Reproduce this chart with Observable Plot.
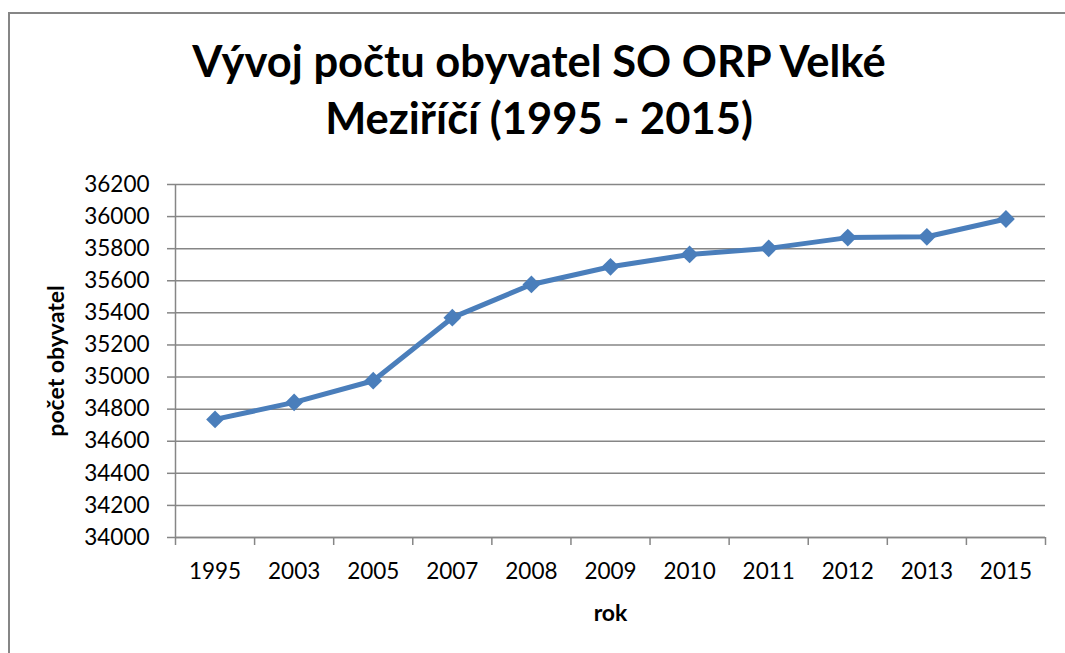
<!DOCTYPE html>
<html>
<head>
<meta charset="utf-8">
<script src="https://cdn.jsdelivr.net/npm/d3@7"></script>
<script src="https://cdn.jsdelivr.net/npm/@observablehq/plot@0.6"></script>
<style>
  html, body { margin: 0; padding: 0; overflow: hidden; background: #fff; width: 1065px; height: 653px; }
  body { font-family: Lato, "Open Sans", sans-serif; position: relative; }
  #frame { position: absolute; left: 8px; top: 12px; width: 1100px; height: 700px; border-left: 2px solid #868686; border-top: 2px solid #868686; pointer-events: none; }
  #title { position: relative; box-sizing: border-box; height: 165px; padding-top: 32px; padding-left: 13px; text-align: center;
           font-family: Lato, sans-serif; font-weight: bold; font-size: 43.5px; line-height: 57px; color: #000; white-space: nowrap; }
  #chart svg { display: block; }
</style>
</head>
<body>
<div id="frame"></div>
<div id="title">Vývoj počtu obyvatel SO ORP Velké<br>Meziříčí (1995 - 2015)</div>
<div id="chart"></div>
<script>
const years = ["1995", "2003", "2005", "2007", "2008", "2009", "2010", "2011", "2012", "2013", "2015"];
const population = [34736, 34842, 34977, 35370, 35577, 35687, 35764, 35802, 35869, 35874, 35985];
const yTicks = [34000, 34200, 34400, 34600, 34800, 35000, 35200, 35400, 35600, 35800, 36000, 36200];
const xLabel = "rok";
const yLabel = "počet obyvatel";

const rows = years.map((year, i) => ({i, year, value: population[i]}));
const idx = d3.range(years.length);
const bounds = d3.range(years.length + 1).map(k => k - 0.5);
const gray = "#868686";
const blue = "#4A7EBB";

const plot = Plot.plot({
  width: 1065,
  height: 488,
  marginTop: 19,
  marginBottom: 116,
  marginLeft: 175,
  marginRight: 20,
  style: {fontFamily: "Lato, sans-serif", fontSize: "22.5px", color: "#000", background: "transparent"},
  x: {type: "linear", domain: [-0.5, years.length - 0.5]},
  y: {domain: [34000, 36200]},
  marks: [
    Plot.gridY(yTicks, {stroke: gray, strokeOpacity: 1, strokeWidth: 1.5}),
    Plot.ruleX([bounds[0]], {y1: yTicks[0], y2: yTicks[yTicks.length - 1], stroke: gray, strokeWidth: 1.5}),
    Plot.ruleY([yTicks[0]], {stroke: gray, strokeWidth: 1.5}),
    Plot.axisY(yTicks, {tickSize: 8, tickPadding: 18, stroke: gray, strokeWidth: 1.5, fill: "#000", tickFormat: d => String(d), label: null}),
    Plot.axisX(bounds, {tickSize: 8, stroke: gray, strokeWidth: 1.5, tickFormat: () => "", label: null}),
    Plot.axisX(idx, {tickSize: 0, tickPadding: 26, fill: "#000", tickFormat: i => years[i], label: null}),
    Plot.text([xLabel], {frameAnchor: "bottom", dy: 76, textAnchor: "middle", lineAnchor: "middle", fontWeight: "bold", fontSize: 23, fill: "#000"}),
    Plot.text([yLabel], {frameAnchor: "left", dx: -119, rotate: -90, textAnchor: "middle", lineAnchor: "middle", fontWeight: "bold", fontSize: 23, fill: "#000"}),
    Plot.line(rows, {x: "i", y: "value", stroke: blue, strokeWidth: 5, strokeLinejoin: "round"}),
    Plot.dot(rows, {x: "i", y: "value", symbol: "diamond2", r: 8, fill: blue, stroke: "none"})
  ]
});
document.getElementById("chart").appendChild(plot);
</script>
</body>
</html>
